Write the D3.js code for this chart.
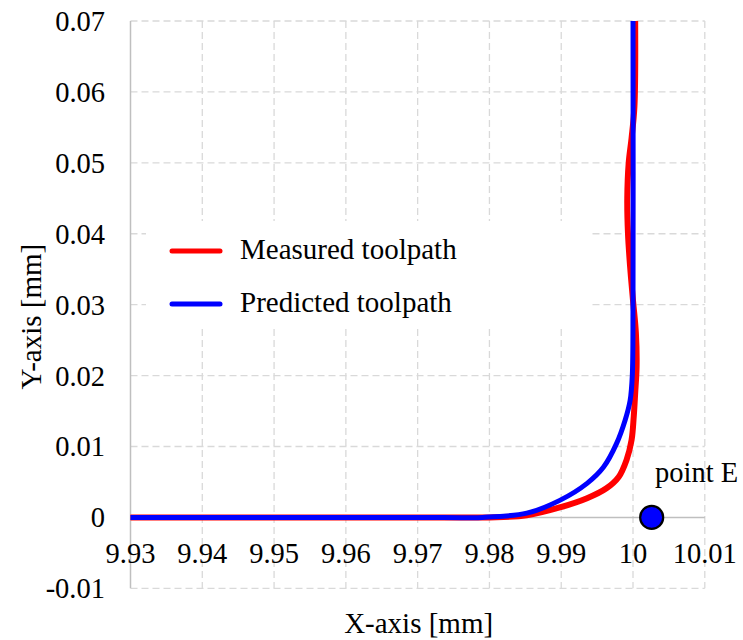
<!DOCTYPE html>
<html>
<head>
<meta charset="utf-8">
<script src="https://cdn.jsdelivr.net/npm/d3@7"></script>
<style>
  html, body { margin: 0; padding: 0; background: #fff; }
  svg text { font-family: "Liberation Serif", "DejaVu Serif", "Times New Roman", serif; }
</style>
</head>
<body>
<svg id="chart" width="743" height="640"></svg>
<script>
// Tick values
const xTicks = [9.93, 9.94, 9.95, 9.96, 9.97, 9.98, 9.99, 10.00, 10.01];
const xTickLabels = ["9.93", "9.94", "9.95", "9.96", "9.97", "9.98", "9.99", "10", "10.01"];
const yTicks = [-0.01, 0, 0.01, 0.02, 0.03, 0.04, 0.05, 0.06, 0.07];
const yTickLabels = ["-0.01", "0", "0.01", "0.02", "0.03", "0.04", "0.05", "0.06", "0.07"];

// Measured toolpath (mm)
const measuredX = [9.93, 9.95, 9.97, 9.98, 9.9852, 9.9898, 9.9936, 9.9963, 9.9980, 9.9991, 9.9998, 10.0001, 10.0003, 10.0005, 10.0004, 10.0000, 9.9996, 9.9993, 9.9992, 9.9994, 9.9998, 10.0002, 10.0003];
const measuredY = [0, 0, 0, 0, 0.0003, 0.0014, 0.0027, 0.0041, 0.0057, 0.0081, 0.0109, 0.0142, 0.0175, 0.0213, 0.0260, 0.0306, 0.0353, 0.0400, 0.0450, 0.0500, 0.0535, 0.0580, 0.0700];

// Predicted toolpath (mm)
const predictedX = [9.93, 9.95, 9.97, 9.979, 9.9852, 9.9898, 9.9936, 9.9959, 9.9977, 9.9989, 9.9996, 9.9999, 10.0000, 10.0000];
const predictedY = [0, 0, 0, 0, 0.0006, 0.0024, 0.0048, 0.0071, 0.0104, 0.0137, 0.0165, 0.0200, 0.0300, 0.0700];

// Marked point
const pointE = { x: 10.0026, y: 0, label: "point E" };

const seriesNames = ["Measured toolpath", "Predicted toolpath"];
const seriesColors = ["#ff0000", "#0000ff"];

const svg = d3.select("#chart");
const x = d3.scaleLinear().domain([9.93, 10.01]).range([130.5, 704.8]);
const y = d3.scaleLinear().domain([-0.01, 0.07]).range([588.3, 21]);

const gridColor = "#d9d9d9";
const axisColor = "#bfbfbf";
const serif = "'Liberation Serif', 'DejaVu Serif', 'Times New Roman', serif";
const tickSize = 28.5;

// Grid
const grid = svg.append("g");
grid.selectAll("line.v").data(xTicks.slice(1)).join("line")
  .attr("x1", d => x(d)).attr("x2", d => x(d))
  .attr("y1", y(0.07)).attr("y2", y(-0.01))
  .attr("stroke", gridColor).attr("stroke-width", 1.3).attr("stroke-dasharray", "7,4");
grid.selectAll("line.h").data(yTicks.filter(d => d !== 0)).join("line")
  .attr("x1", x(9.93)).attr("x2", x(10.01))
  .attr("y1", d => y(d)).attr("y2", d => y(d))
  .attr("stroke", gridColor).attr("stroke-width", 1.3).attr("stroke-dasharray", "7,4");

// Axis lines
svg.append("line")
  .attr("x1", x(9.93)).attr("x2", x(9.93)).attr("y1", y(0.07)).attr("y2", y(-0.01))
  .attr("stroke", axisColor).attr("stroke-width", 1.5);
svg.append("line")
  .attr("x1", x(9.93)).attr("x2", x(10.01)).attr("y1", y(0)).attr("y2", y(0))
  .attr("stroke", axisColor).attr("stroke-width", 1.5);

// Tick labels
svg.append("g").selectAll("text").data(yTicks).join("text")
  .attr("x", 105).attr("y", d => y(d)).attr("dy", "0.35em")
  .attr("text-anchor", "end").attr("font-size", tickSize).attr("font-family", serif).attr("fill", "#000")
  .text((d, i) => yTickLabels[i]);
svg.append("g").selectAll("text").data(xTicks).join("text")
  .attr("x", d => x(d)).attr("y", 563)
  .attr("text-anchor", "middle").attr("font-size", tickSize).attr("font-family", serif).attr("fill", "#000")
  .text((d, i) => xTickLabels[i]);

// Axis titles
svg.append("text")
  .attr("x", (x(9.93) + x(10.01)) / 2 + 1).attr("y", 633)
  .attr("text-anchor", "middle").attr("font-size", 29).attr("font-family", serif).text("X-axis [mm]");
svg.append("text")
  .attr("transform", `translate(41,${(y(0.07) + y(-0.01)) / 2 + 12}) rotate(-90)`)
  .attr("text-anchor", "middle").attr("font-size", 29).attr("font-family", serif).text("Y-axis [mm]");

// Legend background
svg.append("rect")
  .attr("x", 146).attr("y", 221).attr("width", 445).attr("height", 107)
  .attr("fill", "#fff");

// Toolpaths
const line = d3.line()
  .x(d => x(d[0])).y(d => y(d[1]))
  .curve(d3.curveCatmullRom.alpha(0.5));
const measured = measuredX.map((v, i) => [v, measuredY[i]]);
const predicted = predictedX.map((v, i) => [v, predictedY[i]]);

svg.append("path").datum(measured).attr("d", line)
  .attr("fill", "none").attr("stroke", seriesColors[0]).attr("stroke-width", 6)
  .attr("stroke-linejoin", "round");
svg.append("path").datum(predicted).attr("d", line)
  .attr("fill", "none").attr("stroke", seriesColors[1]).attr("stroke-width", 5)
  .attr("stroke-linejoin", "round");

// Point E
svg.append("circle")
  .attr("cx", x(pointE.x)).attr("cy", y(pointE.y)).attr("r", 11.5)
  .attr("fill", "#0000ff").attr("stroke", "#000").attr("stroke-width", 2.2);
svg.append("text")
  .attr("x", 655).attr("y", 482).attr("font-size", tickSize).attr("font-family", serif).text(pointE.label);

// Legend
const legend = svg.append("g");
const legendY = [251, 304];
seriesNames.forEach((name, i) => {
  legend.append("line")
    .attr("x1", 172).attr("x2", 220).attr("y1", legendY[i]).attr("y2", legendY[i])
    .attr("stroke", seriesColors[i]).attr("stroke-width", 5).attr("stroke-linecap", "round");
  legend.append("text")
    .attr("x", 240).attr("y", legendY[i] + 8).attr("font-size", 29).attr("font-family", serif)
    .text(name);
});
</script>
</body>
</html>
